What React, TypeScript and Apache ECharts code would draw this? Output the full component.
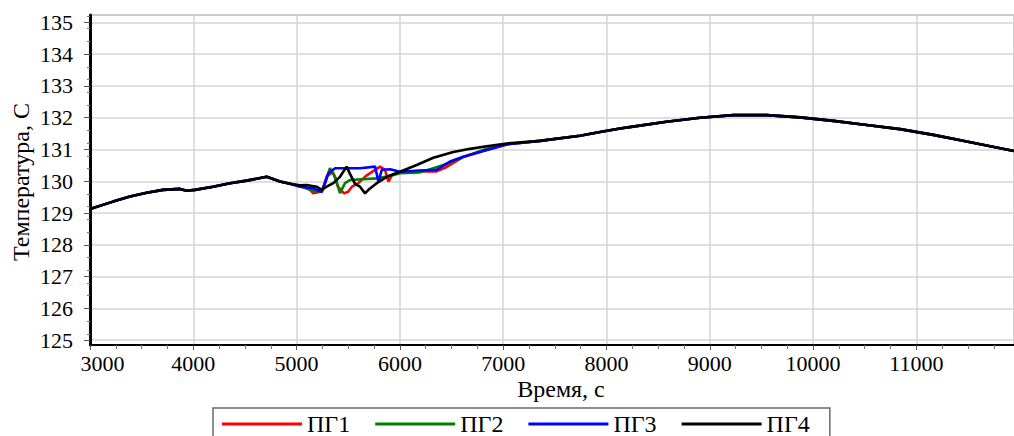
import React, { useEffect, useRef } from "react";
import * as echarts from "echarts";

// Shared part of the temperature curve before the disturbance (time, s / temperature, C)
const headTime = [3000, 3223, 3387, 3549, 3707, 3871, 3936, 4016, 4191, 4355, 4517, 4711, 4839, 4936];
const headTemp = [129.13, 129.36, 129.52, 129.64, 129.73, 129.76, 129.7, 129.73, 129.83, 129.94, 130.02, 130.14, 129.99, 129.92];

// Per-generator segments through the 5000–7000 s transient
const pg1Time = [5033, 5130, 5162, 5244, 5294, 5352, 5400, 5459, 5498, 5536, 5598, 5672, 5808, 5856, 5889, 5925, 6001, 6195, 6356, 6437, 6611, 6840, 7034];
const pg1Temp = [129.85, 129.73, 129.62, 129.68, 130.17, 130.29, 129.83, 129.62, 129.67, 129.83, 129.94, 130.17, 130.46, 130.36, 129.99, 130.2, 130.28, 130.32, 130.31, 130.42, 130.76, 130.98, 131.16];

const pg2Time = [5033, 5194, 5258, 5323, 5373, 5420, 5469, 5517, 5776, 5905, 6001, 6195, 6421, 6611, 6840, 7034];
const pg2Temp = [129.85, 129.67, 129.78, 130.41, 130.14, 129.63, 129.94, 130.04, 130.09, 130.17, 130.25, 130.28, 130.51, 130.76, 131.02, 131.17];

const pg3Time = [5033, 5162, 5244, 5308, 5373, 5486, 5615, 5760, 5792, 5825, 5905, 6001, 6195, 6356, 6485, 6614, 6840, 7034];
const pg3Temp = [129.83, 129.78, 129.66, 130.25, 130.41, 130.41, 130.41, 130.46, 129.99, 130.36, 130.38, 130.3, 130.34, 130.36, 130.62, 130.77, 130.98, 131.16];

const pg4Time = [5033, 5097, 5194, 5242, 5291, 5355, 5420, 5485, 5517, 5566, 5614, 5663, 5695, 5776, 5873, 6001, 6163, 6324, 6517, 6679, 6840, 7034];
const pg4Temp = [129.87, 129.88, 129.83, 129.73, 129.83, 129.94, 130.14, 130.46, 130.23, 129.92, 129.83, 129.62, 129.73, 129.94, 130.14, 130.3, 130.51, 130.74, 130.92, 131.02, 131.1, 131.19];

// Shared slow rise and fall after the transient
const tailTime = [7356, 7743, 7937, 8131, 8256, 8580, 8906, 9228, 9551, 9873, 10196, 10519, 10842, 11164, 11487, 11945];
const tailTemp = [131.27, 131.43, 131.55, 131.66, 131.72, 131.87, 132.0, 132.08, 132.08, 132.01, 131.9, 131.77, 131.64, 131.46, 131.25, 130.95];

const seriesNames = ["ПГ1", "ПГ2", "ПГ3", "ПГ4"];
const seriesColors = ["#ff0000", "#008000", "#0000ff", "#000000"];
const midTimes = [pg1Time, pg2Time, pg3Time, pg4Time];
const midTemps = [pg1Temp, pg2Temp, pg3Temp, pg4Temp];

const yTicks = [125, 126, 127, 128, 129, 130, 131, 132, 133, 134, 135];

const FONT = "Liberation Serif";

function pairs(t: number[], v: number[]) {
  return t.map((x, i) => [x, v[i]]);
}

export default function App() {
  const ref = useRef<HTMLDivElement>(null);

  useEffect(() => {
    if (!ref.current) return;
    const chart = echarts.init(ref.current, undefined, { renderer: "svg" });

    const series = seriesNames.map((name, i) => ({
      name,
      type: "line",
      showSymbol: false,
      symbol: "none",
      color: seriesColors[i],
      lineStyle: { color: seriesColors[i], width: 2.6 },
      data: [
        ...pairs(headTime, headTemp),
        ...pairs(midTimes[i], midTemps[i]),
        ...pairs(tailTime, tailTemp),
      ],
      z: 2 + i,
    }));

    chart.setOption({
      animation: false,
      backgroundColor: "#ffffff",
      textStyle: { fontFamily: FONT },
      grid: {
        left: 90,
        top: 15,
        width: 924,
        height: 330,
        show: true,
        borderColor: "#9a9a9a",
        borderWidth: 1,
        containLabel: false,
      },
      xAxis: {
        type: "value",
        min: 3000,
        max: 11945,
        interval: 1000,
        axisLine: { show: true, lineStyle: { color: "#000", width: 2 } },
        axisTick: { show: true, length: 5, lineStyle: { color: "#555", width: 1 } },
        minorTick: { show: true, splitNumber: 4, length: 4, lineStyle: { color: "#777", width: 1 } },
        splitLine: { show: true, lineStyle: { color: "#d4d4d4", width: 1.5 } },
        axisLabel: {
          margin: 7,
          color: "#000",
          fontSize: 22,
          fontFamily: FONT,
          showMaxLabel: false,
          formatter: (v: number) => (v === 3000 ? "{first|3000}" : String(v)),
          rich: {
            first: { padding: [0, 0, 0, 25], fontSize: 22, fontFamily: FONT, color: "#000" },
          },
        },
      },
      yAxis: {
        type: "value",
        min: 124.85,
        max: 135.23,
        axisLine: { show: true, lineStyle: { color: "#000", width: 3 } },
        axisTick: { show: true, length: 6, customValues: yTicks, lineStyle: { color: "#555", width: 1 } },
        minorTick: { show: true, splitNumber: 5, length: 3, lineStyle: { color: "#777", width: 1 } },
        splitLine: { show: true, lineStyle: { color: "#d4d4d4", width: 1.5 } },
        axisLabel: {
          customValues: yTicks,
          margin: 17,
          color: "#000",
          fontSize: 22,
          fontFamily: FONT,
        },
      },
      legend: {
        left: 213,
        top: 408,
        orient: "horizontal",
        icon: "rect",
        itemWidth: 80,
        itemHeight: 3,
        itemGap: 25,
        padding: [4, 20, 12, 9],
        backgroundColor: "#ffffff",
        borderColor: "#6a6a6a",
        borderWidth: 1.5,
        textStyle: { fontFamily: FONT, fontSize: 24, color: "#000" },
        data: seriesNames,
      },
      graphic: [
        {
          type: "text",
          x: 21,
          y: 182,
          rotation: Math.PI / 2,
          style: {
            text: "Температура, С",
            fontFamily: FONT,
            fontSize: 24,
            fill: "#000",
            align: "center",
            verticalAlign: "middle",
          },
        },
        {
          type: "text",
          x: 561,
          y: 389,
          style: {
            text: "Время, с",
            fontFamily: FONT,
            fontSize: 24,
            fill: "#000",
            align: "center",
            verticalAlign: "middle",
          },
        },
      ],
      series,
    });

    return () => chart.dispose();
  }, []);

  return (
    <div
      ref={ref}
      style={{ position: "fixed", left: 0, top: 0, width: 1014, height: 436, background: "#fff" }}
    />
  );
}
